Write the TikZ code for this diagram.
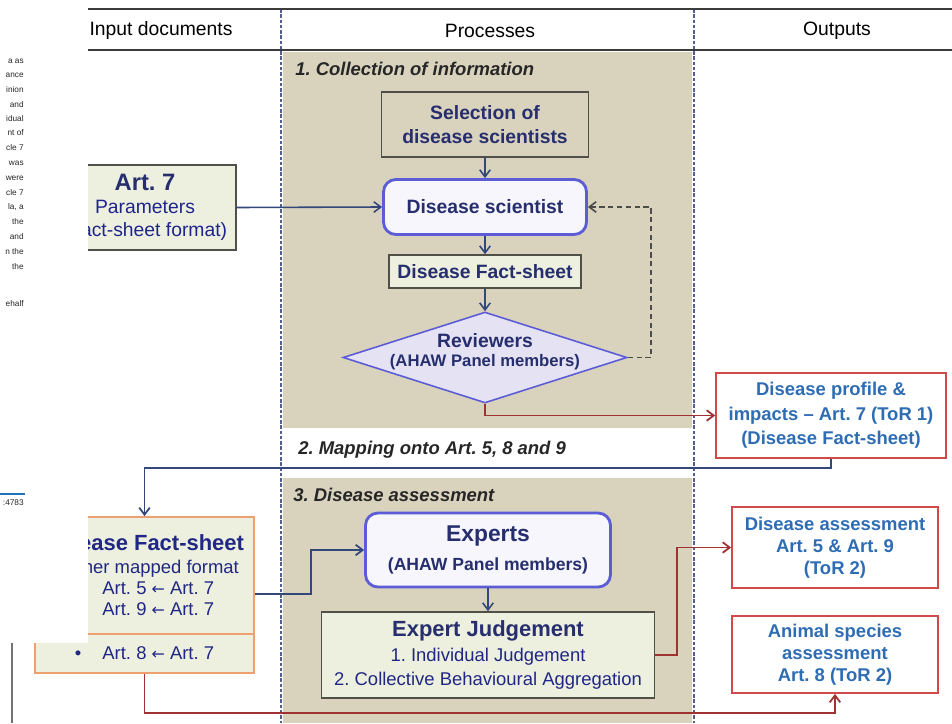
\documentclass[tikz,border=0pt]{standalone}
\usepackage{fontspec}
\setmainfont{Liberation Sans}
\newfontfamily\arrowfont{DejaVu Sans}
\usetikzlibrary{shapes.geometric,arrows.meta}

\definecolor{tan}{RGB}{217,211,190}
\definecolor{cream}{RGB}{238,240,223}
\definecolor{navy}{RGB}{38,46,110}
\definecolor{boxgray}{RGB}{80,80,72}
\definecolor{purp}{RGB}{92,92,214}
\definecolor{lav}{RGB}{246,246,252}
\definecolor{diafill}{RGB}{228,226,243}
\definecolor{outblue}{RGB}{46,109,180}
\definecolor{outred}{RGB}{208,74,74}
\definecolor{linkred}{RGB}{160,50,50}
\definecolor{linkblue}{RGB}{52,71,122}
\definecolor{orangeb}{RGB}{238,160,112}
\definecolor{colline}{RGB}{80,95,140}
\definecolor{rulegray}{RGB}{60,60,60}
\definecolor{barblue}{RGB}{30,115,190}

\newcommand{\maparrow}{{\arrowfont\fontsize{9}{10}\selectfont ←}}

\tikzset{
  hdr/.style={font=\fontsize{11}{13}\selectfont},
  sect/.style={anchor=west,inner sep=0pt,text=black!85,font=\fontsize{10.5}{12}\selectfont\bfseries\itshape},
  graybox/.style={draw=boxgray,line width=0.9pt,fill=cream,text=navy,align=center,inner sep=2pt,font=\fontsize{11}{14}\selectfont\bfseries},
  sbox/.style={draw=purp,line width=1.6pt,rounded corners=7pt,fill=lav,text=navy,align=center,inner sep=2pt,font=\fontsize{11}{14}\selectfont\bfseries},
  revbox/.style={diamond,draw=purp,line width=0.9pt,fill=diafill,text=navy,inner sep=0pt,font=\fontsize{11}{13}\selectfont\bfseries},
  outbox/.style={draw=outred,line width=1pt,fill=white,text=outblue,align=center,inner sep=2pt,font=\fontsize{10.5}{12.6}\selectfont\bfseries},
  fsbox/.style={draw=orangeb,line width=1pt,fill=cream,text=navy!85!blue,align=center,inner sep=2pt,font=\fontsize{10.5}{12}\selectfont},
  frag/.style={anchor=east,inner sep=0pt,text=black!85,font=\fontsize{4.7}{5}\selectfont},
  navyarrow/.style={draw=linkblue,line width=0.9pt,-{Straight Barb[length=4pt,width=6pt]}},
  bluearrow/.style={draw=linkblue,line width=1pt,-{Straight Barb[length=4pt,width=6pt]}},
  redarrow/.style={draw=linkred,line width=1pt,-{Straight Barb[length=4pt,width=6pt]}},
  backarrow/.style={draw=black!70,line width=0.9pt,dash pattern=on 3pt off 2pt,-{Straight Barb[length=4pt,width=6pt]}}
}

\begin{document}
\frenchspacing
\begin{tikzpicture}[x=0.02cm,y=-0.02cm]
  \useasboundingbox (0,0) rectangle (952,723);

  % shaded process areas and table rules
  \fill[tan] (283,52) rectangle (692,428);
  \fill[tan] (283,478) rectangle (692,723);
  \draw[colline,line width=0.8pt,dash pattern=on 2pt off 1pt] (281,9) -- (281,723);
  \draw[colline,line width=0.8pt,dash pattern=on 2pt off 1pt] (694,9) -- (694,723);
  \draw[rulegray,line width=1.6pt] (40,9) -- (952,9);
  \draw[rulegray,line width=1.6pt] (40,50) -- (952,50);

  \node[hdr] (hin) at (161,31) {Input documents};
  \node[hdr] (hpro) at (490,31) {Processes};
  \node[hdr] (hout) at (837,31) {Outputs};

  \node[sect] (sec1) at (295,69) {1. Collection of information};
  \node[sect] (sec2) at (298,450) {2. Mapping onto Art. 5, 8 and 9};
  \node[sect] (sec3) at (293,495) {3. Disease assessment};

  % 1. collection of information
  \node[graybox,fill=tan,minimum width=4.14cm,minimum height=1.3cm] (sel) at (485,124.5) {Selection of\\disease scientists};
  \node[sbox,minimum width=4.06cm,minimum height=1.1cm] (sci) at (485,207) {Disease scientist};
  \node[graybox,minimum width=3.84cm,minimum height=0.66cm] (fs) at (485,271.5) {Disease Fact-sheet};
  \node[revbox,minimum width=5.68cm,minimum height=1.82cm] (rev) at (485,357.5)
    {\makebox[0pt]{\smash{\begin{tabular}{@{}c@{}}Reviewers\\[-2pt]{\fontsize{9.5}{11}\selectfont(AHAW Panel members)}\end{tabular}}}};

  \node[graybox,font=\fontsize{11}{13}\selectfont,text=navy!80!blue,minimum width=3.64cm,minimum height=1.7cm] (art7) at (145,207.5)
    {{\fontsize{13.5}{15}\selectfont\bfseries\color{navy}Art. 7}\\Parameters\\(Fact-sheet format)};

  % outputs
  \node[outbox,font=\fontsize{10.5}{14}\selectfont\bfseries,minimum width=4.6cm,minimum height=1.7cm] (prof) at (831,415.5)
    {Disease profile \&\\impacts -- Art. 7 (ToR 1)\\(Disease Fact-sheet)};
  \node[outbox,minimum width=4.12cm,minimum height=1.62cm] (dass) at (835,547.5)
    {Disease assessment\\Art. 5 \& Art. 9\\(ToR 2)};
  \node[outbox,minimum width=4.12cm,minimum height=1.54cm] (asp) at (835,654.5)
    {Animal species\\assessment\\Art. 8 (ToR 2)};

  % mapped fact-sheet
  \node[fsbox,minimum width=4.38cm,minimum height=2.34cm] (lfs) at (144.5,575.5)
    {{\fontsize{12.5}{15}\selectfont\bfseries Disease Fact-sheet}\\[1pt]Former mapped format\\
     \textbullet\hspace{12pt}Art. 5 \maparrow{} Art. 7\\\textbullet\hspace{12pt}Art. 9 \maparrow{} Art. 7};
  \node[fsbox,minimum width=4.38cm,minimum height=0.78cm] (lfs8) at (144.5,653.5)
    {\textbullet\hspace{12pt}Art. 8 \maparrow{} Art. 7};

  % 3. disease assessment
  \node[sbox,font=\fontsize{10}{16}\selectfont\bfseries,minimum width=4.9cm,minimum height=1.48cm] (exp) at (488,550)
    {{\fontsize{13}{16}\selectfont Experts}\\(AHAW Panel members)};
  \node[graybox,font=\fontsize{10.5}{14}\selectfont,text=navy!85!blue,minimum width=6.66cm,minimum height=1.72cm] (ej) at (488,655)
    {{\fontsize{12.5}{14}\selectfont\bfseries\color{navy}Expert Judgement}\\1. Individual Judgement\\2. Collective Behavioural Aggregation};

  % connectors
  \draw[navyarrow] (sel) -- (sci);
  \draw[navyarrow] (sci) -- (fs);
  \draw[navyarrow] (fs) -- (rev);
  \draw[backarrow] (rev.east) -- ++(23,0) |- (sci.east);
  \draw[navyarrow] (art7.east) -- (sci.west);
  \draw[redarrow] (rev.south) |- (prof.west);
  \draw[bluearrow] (prof.south) -- ++(0,9) -| (lfs.north);
  \draw[bluearrow] ([yshift=-0.37cm]lfs.east) -- ++(56,0) |- (exp.west);
  \draw[navyarrow] (exp) -- (ej);
  \draw[redarrow] (ej.east) -- ++(22,0) |- (dass.west);
  \draw[redarrow] (lfs8.south) -- ++(0,39) -| (asp.south);

  % page text lying over the left edge
  \fill[white] (0,0) rectangle (88,643);
  \foreach \y/\t in {61/{a as},75/ance,90/inion,105/and,119/idual,133/{nt of},148/{cle 7},163/was,
                     178/were,193/{cle 7},207/{la, a},222/the,237/and,252/{n the},267/the,304/ehalf}
    \node[frag] (frag\y) at (24,\y) {\t};
  \draw[barblue,line width=1.6pt] (0,494) -- (25,494);
  \node[frag] (cite) at (24,503) {:4783};
  \draw[black!55,line width=1.2pt] (12,643) -- (12,723);
\end{tikzpicture}
\end{document}
